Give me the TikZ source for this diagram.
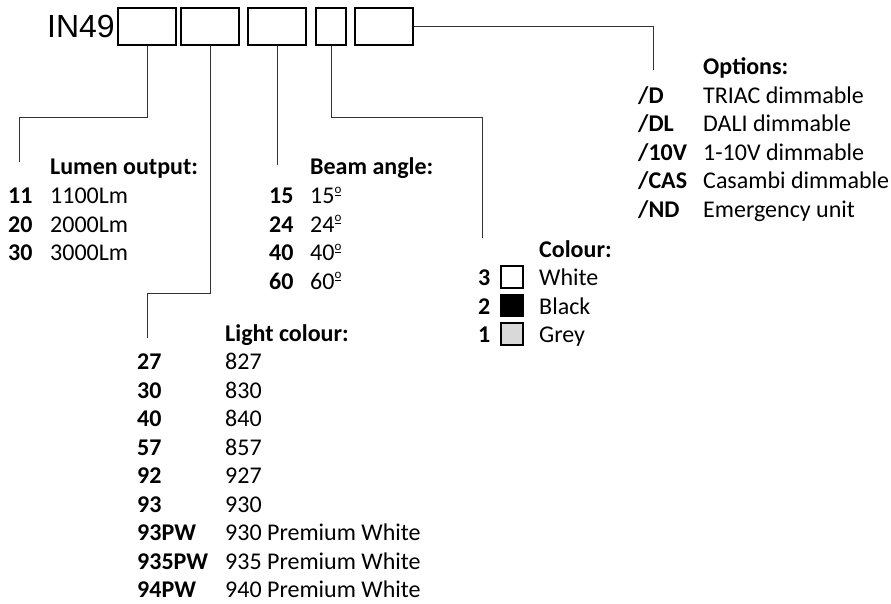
\documentclass[tikz,border=0pt]{standalone}
\usepackage{fontspec}
\setmainfont{Carlito}
\newfontfamily\codefont{Liberation Sans}
\usetikzlibrary{positioning}
\definecolor{wire}{HTML}{333333}
\definecolor{greyfill}{HTML}{D9D9D9}
\newcommand\ordo{\raisebox{.42em}{\fontsize{13}{13}\selectfont\underline{o}}}
\tikzset{slot/.style={draw=black,line width=1.6pt,minimum height=37pt,inner sep=0pt}, txt/.style={anchor=base west,inner sep=0pt,font=\fontsize{24}{29}\selectfont}, hd/.style={txt,font=\fontsize{24}{29}\selectfont\bfseries}, code/.style={hd}, swatch/.style={draw=black,line width=1.6pt,minimum size=22pt,inner sep=0pt}, link/.style={draw=wire,line width=1pt}}
\begin{document}
\begin{tikzpicture}[x=1pt,y=-1pt]
\useasboundingbox (0,0) rectangle (891,604);
\node[anchor=base west,inner sep=0pt,font=\codefont\fontsize{32}{36}\selectfont] (pre) at (47,38) {IN49};
\node[slot,minimum width=58pt] (b1) at (147,26.5) {};
\node[slot,minimum width=58pt] (b2) at (210,26.5) {};
\node[slot,minimum width=58pt] (b3) at (277,26.5) {};
\node[slot,minimum width=30pt] (b4) at (331,26.5) {};
\node[slot,minimum width=58pt] (b5) at (384,26.5) {};
\coordinate (lum) at (19,162);
\coordinate (lig) at (147,338);
\coordinate (bea) at (277,165);
\coordinate (col) at (482,238);
\coordinate (opt) at (653,70);
% lumen output
\node[hd] (lh) at (50,175) {Lumen output:};
\node[code] (l1) at (8,203.5) {11}; \node[txt] (l1t) at (50,203.5) {1100Lm};
\node[code] (l2) at (8,232) {20}; \node[txt] (l2t) at (50,232) {2000Lm};
\node[code] (l3) at (8,260.5) {30}; \node[txt] (l3t) at (50,260.5) {3000Lm};
% beam angle
\node[hd] (ah) at (310,175) {Beam angle:};
\node[code] (a1) at (269,203.5) {15}; \node[txt] (a1t) at (310,203.5) {15\ordo};
\node[code] (a2) at (269,232) {24}; \node[txt] (a2t) at (310,232) {24\ordo};
\node[code] (a3) at (269,260.5) {40}; \node[txt] (a3t) at (310,260.5) {40\ordo};
\node[code] (a4) at (269,289) {60}; \node[txt] (a4t) at (310,289) {60\ordo};
% colour
\node[hd] (ch) at (539,257) {Colour:};
\node[code] (c3) at (478,285.5) {3}; \node[swatch,fill=white] (s3) at (512,277) {}; \node[txt] (c3t) at (539,285.5) {White};
\node[code] (c2) at (478,314) {2}; \node[swatch,fill=black] (s2) at (512,305.5) {}; \node[txt] (c2t) at (539,314) {Black};
\node[code] (c1) at (478,342.5) {1}; \node[swatch,fill=greyfill] (s1) at (512,334) {}; \node[txt] (c1t) at (539,342.5) {Grey};
% options
\node[hd] (oh) at (703,75) {Options:};
\node[code] (o1) at (638,103.5) {/D}; \node[txt] (o1t) at (703,103.5) {TRIAC dimmable};
\node[code] (o2) at (638,132) {/DL}; \node[txt] (o2t) at (703,132) {DALI dimmable};
\node[code] (o3) at (638,160.5) {/10V}; \node[txt] (o3t) at (703,160.5) {1-10V dimmable};
\node[code] (o4) at (638,189) {/CAS}; \node[txt] (o4t) at (703,189) {Casambi dimmable};
\node[code] (o5) at (638,217.5) {/ND}; \node[txt] (o5t) at (703,217.5) {Emergency unit};
% light colour
\node[hd] (kh) at (225,341) {Light colour:};
\node[code] (k1) at (137,369.5) {27}; \node[txt] (k1t) at (225,369.5) {827};
\node[code] (k2) at (137,398) {30}; \node[txt] (k2t) at (225,398) {830};
\node[code] (k3) at (137,426.5) {40}; \node[txt] (k3t) at (225,426.5) {840};
\node[code] (k4) at (137,455) {57}; \node[txt] (k4t) at (225,455) {857};
\node[code] (k5) at (137,483.5) {92}; \node[txt] (k5t) at (225,483.5) {927};
\node[code] (k6) at (137,512) {93}; \node[txt] (k6t) at (225,512) {930};
\node[code] (k7) at (137,540.5) {93PW}; \node[txt] (k7t) at (225,540.5) {930 Premium White};
\node[code] (k8) at (137,569) {935PW}; \node[txt] (k8t) at (225,569) {935 Premium White};
\node[code] (k9) at (137,597.5) {94PW}; \node[txt] (k9t) at (225,597.5) {940 Premium White};
\draw[link] (b1.south)--++(0,72)-|(lum);\draw[link] (b2.south)--++(0,248)-|(lig);
\draw[link] (b3.south)--(bea);\draw[link] (b4.south)--++(0,72)-|(col);
\draw[link] (b5.east)-|(opt);
\end{tikzpicture}
\end{document}
